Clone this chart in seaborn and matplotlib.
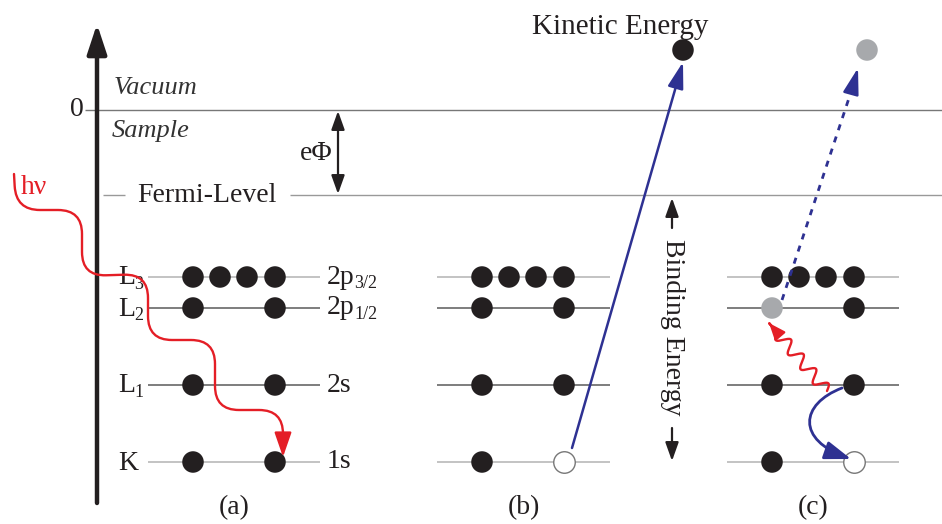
import numpy as np
import pandas as pd
import matplotlib
matplotlib.use("Agg")
import matplotlib.pyplot as plt
import seaborn as sns
from matplotlib.path import Path
from matplotlib.patches import FancyArrowPatch

# --- diagram data (pixel-like units, y grows downward) ---
level_names = ["L", "L", "L", "K"]
level_subs = ["3", "2", "1", ""]
orbitals = ["2p", "2p", "2s", "1s"]
orbital_subs = ["3/2", "1/2", "", ""]
level_y = [277, 308, 385, 462]
level_shade = ["#b3b3b3", "#5a5a5a", "#5a5a5a", "#b3b3b3"]
panel_names = ["(a)", "(b)", "(c)"]
panel_x0 = [148, 437, 727]
panel_x1 = [320, 610, 899]
slot_offset = [45, 72, 99, 127]
# occupied slots per level (same for every panel)
level_slots = [[0, 1, 2, 3], [0, 3], [0, 3], [0, 3]]
# special states: (panel, level, slot) -> state
special = {(1, 3, 3): "hole", (2, 3, 3): "hole", (2, 1, 0): "gray"}
vacuum_y = 110
fermi_y = 195

# photon path in (a) (stair corners)
photon_a = [(14, 174), (16, 210), (82, 210), (82, 276), (148, 274),
            (148, 340), (215, 340), (215, 410), (283, 410), (283, 457)]

BLACK = "#231f20"
GREY = "#a7a9ac"
NAVY = "#2e3192"
RED = "#e41e26"

sns.set_theme(style="white")
plt.rcParams["font.family"] = ["Liberation Serif", "DejaVu Serif"]

fig = plt.figure(figsize=(9.42, 5.24), dpi=100)
ax = fig.add_axes([0, 0, 1, 1])

FS = 20
SUB = 13


def label(x, y, main, sub, **kw):
    t = ax.text(x, y, main, fontsize=FS, ha="left", va="center", color=BLACK, **kw)
    if sub:
        ax.annotate(sub, xy=(1, 0), xycoords=t, xytext=(-0.5, -1.5), textcoords="offset points",
                    fontsize=SUB, ha="left", va="bottom", color=BLACK)
    return t


# energy axis
ax.annotate("", xy=(97, 24), xytext=(97, 503),
            arrowprops=dict(arrowstyle="-|>,head_length=1.0,head_width=0.33",
                            lw=3.2, color=BLACK, mutation_scale=18,
                            shrinkA=0, shrinkB=0))

# vacuum & fermi lines
ax.hlines(vacuum_y, 85, 942, color="#777777", lw=1)
ax.hlines(fermi_y, 103, 125, color="#999999", lw=1)
ax.hlines(fermi_y, 290, 942, color="#999999", lw=1)
ax.text(77, vacuum_y, "0", fontsize=FS, ha="center", va="center", color=BLACK)
ax.text(114, 88, "Vacuum", fontsize=FS - 1, style="italic", ha="left", va="center", color="#333333")
ax.text(112, 131, "Sample", fontsize=FS - 1, style="italic", ha="left", va="center", color="#333333")
ax.text(207, fermi_y, "Fermi-Level", fontsize=FS, ha="center", va="center", color=BLACK)

# work function arrow
ax.annotate("", xy=(338, vacuum_y + 1), xytext=(338, fermi_y - 1),
            arrowprops=dict(arrowstyle="<|-|>,head_length=0.7,head_width=0.25",
                            lw=1.6, color=BLACK, mutation_scale=16,
                            shrinkA=0, shrinkB=0))
ax.text(316, 153, "e\u03a6", fontsize=FS, ha="center", va="center", color=BLACK)

# levels
for p in range(3):
    for i, y in enumerate(level_y):
        ax.hlines(y, panel_x0[p], panel_x1[p], color=level_shade[i], lw=1.1, zorder=1)
    ax.text((panel_x0[p] + panel_x1[p]) / 2, 508, panel_names[p], fontsize=FS,
            ha="center", va="center", color=BLACK)

for i, y in enumerate(level_y):
    label(118, y + 1, level_names[i], level_subs[i])
    label(327, y, orbitals[i], orbital_subs[i])

# electrons
rows = []
for p in range(3):
    for i, slots in enumerate(level_slots):
        for s in slots:
            rows.append(dict(x=panel_x0[p] + slot_offset[s], y=level_y[i],
                             state=special.get((p, i, s), "full")))
# emitted electrons at top
rows.append(dict(x=683, y=50, state="full"))
rows.append(dict(x=867, y=50, state="gray"))
df = pd.DataFrame(rows)

pal = {"full": BLACK, "gray": GREY, "hole": "white"}
sns.scatterplot(data=df[df.state != "hole"], x="x", y="y", hue="state", palette=pal,
                s=240, edgecolor="none", legend=False, ax=ax, zorder=3)
sns.scatterplot(data=df[df.state == "hole"], x="x", y="y", color="white",
                s=240, edgecolor="#777777", linewidth=1, legend=False, ax=ax, zorder=3)
ax.set_xlim(0, 942)
ax.set_ylim(524, 0)
ax.axis("off")

ax.text(620, 27, "Kinetic Energy", fontsize=FS + 1, ha="center", va="center", color=BLACK)

# binding energy label
ax.text(673, 327, "Binding Energy", fontsize=FS, rotation=-90, ha="center", va="center", color=BLACK)
for y0, y1 in [(228, 198), (428, 461)]:
    ax.annotate("", xy=(672, y1), xytext=(672, y0),
                arrowprops=dict(arrowstyle="-|>,head_length=0.7,head_width=0.25", lw=1.6,
                                color=BLACK, mutation_scale=16, shrinkA=0, shrinkB=0))


def stair_path(pts, r):
    pts = [np.array(q, float) for q in pts]
    verts, codes = [tuple(pts[0])], [Path.MOVETO]
    for k in range(1, len(pts) - 1):
        p, c, n = pts[k - 1], pts[k], pts[k + 1]
        d1 = (c - p) / np.linalg.norm(c - p)
        d2 = (n - c) / np.linalg.norm(n - c)
        verts += [tuple(c - r * d1), tuple(c), tuple(c + r * d2)]
        codes += [Path.LINETO, Path.CURVE3, Path.CURVE3]
    verts.append(tuple(pts[-1]))
    codes.append(Path.LINETO)
    return Path(verts, codes)


# photon in (a)
ax.add_patch(FancyArrowPatch(path=stair_path(photon_a, 24),
                             arrowstyle="-|>,head_length=0.75,head_width=0.26",
                             mutation_scale=20, color=RED, lw=1.7, zorder=4))
ax.text(21, 188, "h\u03bd", fontsize=FS, ha="left", va="center", color=RED)

# photoelectron (b)
ax.add_patch(FancyArrowPatch((572, 448), (683, 62),
                             arrowstyle="-|>,head_length=0.8,head_width=0.24",
                             mutation_scale=20, color=NAVY, lw=1.8,
                             shrinkA=0, shrinkB=0, zorder=4))

# auger electron (c): dashed line + head
ax.plot([782, 853], [300, 86], color=NAVY, lw=2, ls=(0, (2.2, 2.4)), zorder=4)
ax.add_patch(FancyArrowPatch((853, 86), (858, 68),
                             arrowstyle="-|>,head_length=0.8,head_width=0.24",
                             mutation_scale=20, color=NAVY, lw=1.8,
                             shrinkA=0, shrinkB=0, zorder=4))

# relaxation curve (c)
relax = Path([(842, 388), (800, 404), (796, 440), (851, 459)],
             [Path.MOVETO, Path.CURVE4, Path.CURVE4, Path.CURVE4])
ax.add_patch(FancyArrowPatch(path=relax, arrowstyle="-|>,head_length=0.8,head_width=0.28",
                             mutation_scale=20, color=NAVY, lw=2, zorder=4))

# photon wiggle in (c)
S = np.array([827.0, 391.0])
E = np.array([769.0, 323.0])
d = E - S
L = np.linalg.norm(d)
u = d / L
nrm = np.array([-u[1], u[0]])
t = np.linspace(0, 1, 300)
wig = np.where(t < 0.86, np.sin(2 * np.pi * 4.0 * t / 0.86), 0)
pts = S + np.outer(t * L, u) + np.outer(6.0 * wig, nrm)
ax.add_patch(FancyArrowPatch(path=Path(pts), arrowstyle="-|>,head_length=0.55,head_width=0.22",
                             mutation_scale=18, color=RED, lw=1.7, zorder=4))

fig.savefig("out.png", dpi=100)
